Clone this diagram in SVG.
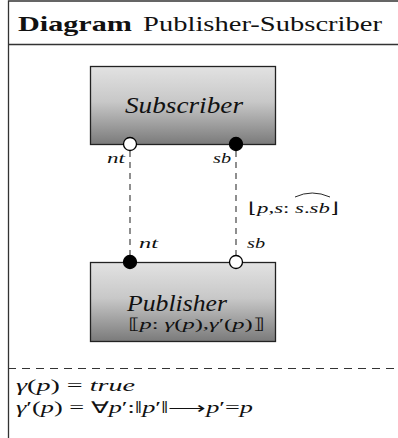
<svg xmlns="http://www.w3.org/2000/svg" width="398" height="438" viewBox="0 0 398 438">
  <style>
    .frame { fill: none; stroke: #333; stroke-width: 1.3; }
    .box { stroke: #222; stroke-width: 1.3; fill: url(#boxFill); }
    .port { stroke: #000; stroke-width: 1.3; }
    .link { stroke: #333; stroke-width: 1.1; stroke-dasharray: 6 5; fill: none; }
    text { fill: #111; font-family: "Liberation Serif", "Times New Roman", serif; }
    .it { font-style: italic; }
  </style>
  <defs>
    <linearGradient id="boxFill" x1="0" y1="0" x2="0" y2="1">
      <stop offset="0" stop-color="#e2e2e2"/>
      <stop offset="0.45" stop-color="#c8c8c8"/>
      <stop offset="1" stop-color="#7a7a7a"/>
    </linearGradient>
  </defs>

  <!-- outer frame with title bar and constraint compartment -->
  <g id="frame">
    <path class="frame" d="M8.5,438 V1 H398"/>
    <line class="frame" x1="8" y1="44.5" x2="398" y2="44.5"/>
    <line x1="8" y1="368.5" x2="398" y2="368.5" stroke="#333" stroke-width="1.1" stroke-dasharray="8 6"/>
    <text x="18" y="31" font-size="22" font-weight="bold" textLength="114" lengthAdjust="spacingAndGlyphs">Diagram</text>
    <text x="143" y="31" font-size="22" textLength="239" lengthAdjust="spacingAndGlyphs">Publisher-Subscriber</text>
  </g>

  <!-- connectors -->
  <g id="connectors">
    <line class="link" x1="130" y1="151" x2="130" y2="256"/>
    <line class="link" x1="236" y1="151" x2="236" y2="256"/>
    <g id="link-label">
      <text x="248" y="213" font-size="15" textLength="91" lengthAdjust="spacingAndGlyphs">⌊<tspan class="it">p</tspan>,<tspan class="it">s</tspan>:  <tspan class="it">s</tspan>.<tspan class="it">sb</tspan>⌋</text>
      <path d="M295,197 Q312,189 330,197" fill="none" stroke="#111" stroke-width="0.9"/>
    </g>
  </g>

  <!-- Subscriber component -->
  <g id="subscriber">
    <rect class="box" x="90.5" y="66.5" width="185" height="78"/>
    <text class="it" x="125" y="113" font-size="23" textLength="118" lengthAdjust="spacingAndGlyphs">Subscriber</text>
    <circle class="port" cx="130" cy="144" r="6.5" fill="#fff"/>
    <circle class="port" cx="236" cy="144" r="6.5" fill="#000"/>
    <text class="it" x="107" y="163" font-size="14" textLength="18" lengthAdjust="spacingAndGlyphs">nt</text>
    <text class="it" x="213" y="163" font-size="14" textLength="18" lengthAdjust="spacingAndGlyphs">sb</text>
  </g>

  <!-- Publisher component -->
  <g id="publisher">
    <rect class="box" x="90.5" y="262.5" width="185" height="79"/>
    <text class="it" x="127" y="311" font-size="23" textLength="100" lengthAdjust="spacingAndGlyphs">Publisher</text>
    <text x="128" y="329" font-size="15" textLength="136" lengthAdjust="spacingAndGlyphs">⟦<tspan class="it">p</tspan>: <tspan class="it">γ</tspan>(<tspan class="it">p</tspan>),<tspan class="it">γ</tspan>′(<tspan class="it">p</tspan>)⟧</text>
    <circle class="port" cx="130" cy="262" r="6.5" fill="#000"/>
    <circle class="port" cx="236" cy="262" r="6.5" fill="#fff"/>
    <text class="it" x="139" y="248" font-size="14" textLength="19" lengthAdjust="spacingAndGlyphs">nt</text>
    <text class="it" x="247" y="248" font-size="14" textLength="18" lengthAdjust="spacingAndGlyphs">sb</text>
  </g>

  <!-- guard definitions -->
  <g id="constraints">
    <text x="16" y="391" font-size="16" textLength="119" lengthAdjust="spacingAndGlyphs"><tspan class="it">γ</tspan>(<tspan class="it">p</tspan>)  =  <tspan class="it">true</tspan></text>
    <text x="16" y="413" font-size="16" textLength="237" lengthAdjust="spacingAndGlyphs"><tspan class="it">γ</tspan>′(<tspan class="it">p</tspan>) = ∀<tspan class="it">p</tspan>′:‖<tspan class="it">p</tspan>′‖⟶<tspan class="it">p</tspan>′=<tspan class="it">p</tspan></text>
  </g>
</svg>
